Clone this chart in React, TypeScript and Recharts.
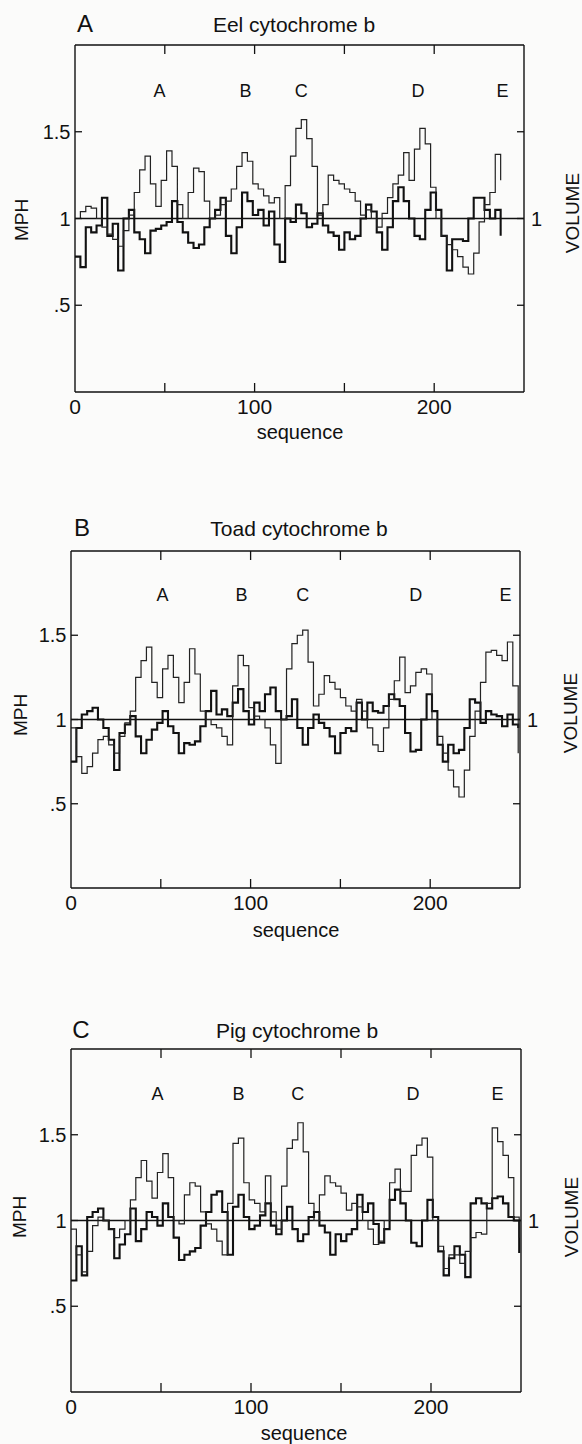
import React from 'react';
import { LineChart, Line, XAxis, YAxis, ReferenceLine, ReferenceDot } from 'recharts';

const FONT = '"Liberation Sans", Arial, Helvetica, sans-serif';

// sequence positions (residue number)
const SEQ = [
  0, 3, 6, 9, 12, 15, 18, 21, 24, 27,
  30, 33, 36, 39, 42, 45, 48, 51, 54, 57,
  60, 63, 66, 69, 72, 75, 78, 81, 84, 87,
  90, 93, 96, 99, 102, 105, 108, 111, 114, 117,
  120, 123, 126, 129, 132, 135, 138, 141, 144, 147,
  150, 153, 156, 159, 162, 165, 168, 171, 174, 177,
  180, 183, 186, 189, 192, 195, 198, 201, 204, 207,
  210, 213, 216, 219, 222, 225, 228, 231, 234, 237,
  240, 243, 246, 249,
];

const X_TICKS = [0, 50, 100, 150, 200];
const X_TICK_LABELS = [0, 100, 200];
const Y_TICKS = [0.5, 1, 1.5];
const REGION_NAMES = ['A', 'B', 'C', 'D', 'E'];

// Panel A: Eel cytochrome b
const eelMph = [
  1.00, 1.04, 1.07, 1.06, 1.00, 0.95, 0.91, 0.88, 0.84, 0.93,
  1.02, 1.15, 1.28, 1.36, 1.20, 1.07, 1.22, 1.39, 1.30, 1.08,
  1.00, 1.15, 1.29, 1.27, 1.10, 1.00, 1.02, 1.08, 1.10, 1.17,
  1.30, 1.38, 1.33, 1.20, 1.17, 1.13, 1.09, 1.12, 1.00, 1.19,
  1.36, 1.52, 1.57, 1.46, 1.30, 1.02, 1.08, 1.25, 1.22, 1.20,
  1.17, 1.15, 1.10, 1.02, 1.05, 1.00, 0.95, 1.03, 1.12, 1.20,
  1.25, 1.38, 1.22, 1.40, 1.52, 1.43, 1.18, 1.00, 0.90, 0.85,
  0.82, 0.78, 0.72, 0.68, 0.80, 0.98, 1.08, 1.15, 1.37, 1.22,
  null, null, null, null,
];
const eelVol = [
  0.78, 0.72, 0.95, 0.92, 0.96, 1.12, 0.90, 0.97, 0.70, 1.00,
  1.05, 0.92, 0.88, 0.80, 0.93, 0.94, 0.96, 0.98, 1.10, 0.98,
  0.92, 0.86, 0.83, 0.85, 0.95, 1.00, 1.05, 1.12, 0.90, 0.80,
  0.95, 1.15, 1.10, 1.02, 1.05, 0.96, 1.04, 0.85, 0.75, 1.00,
  0.98, 1.08, 1.03, 0.95, 0.97, 1.03, 0.96, 0.92, 0.90, 0.82,
  0.92, 0.88, 0.90, 1.00, 1.08, 1.04, 0.92, 0.82, 0.95, 1.10,
  1.18, 1.10, 1.00, 0.90, 0.88, 1.05, 1.15, 1.05, 0.90, 0.70,
  0.88, 0.88, 0.87, 1.00, 1.12, 1.12, 1.05, 1.00, 1.05, 0.90,
  null, null, null, null,
];
const eelRegionSeq = [47, 95, 126, 191, 238];

// Panel B: Toad cytochrome b
const toadMph = [
  0.95, 0.78, 0.68, 0.72, 0.80, 0.88, 0.90, 0.85, 0.80, 0.90,
  0.98, 1.05, 1.25, 1.35, 1.43, 1.22, 1.13, 1.30, 1.38, 1.25,
  1.10, 1.22, 1.42, 1.27, 1.05, 1.00, 0.97, 0.95, 0.90, 0.85,
  1.20, 1.38, 1.32, 1.07, 1.02, 1.00, 0.95, 0.85, 0.74, 1.00,
  1.30, 1.45, 1.50, 1.53, 1.34, 1.08, 1.15, 1.26, 1.22, 1.18,
  1.13, 1.08, 1.05, 1.12, 1.05, 0.95, 0.85, 0.81, 0.95, 1.12,
  1.23, 1.37, 1.16, 1.20, 1.28, 1.30, 1.27, 1.00, 0.90, 0.80,
  0.70, 0.60, 0.54, 0.70, 0.90, 1.05, 1.22, 1.40, 1.41, 1.38,
  1.35, 1.46, 1.20, 0.80,
];
const toadVol = [
  0.75, 0.95, 1.03, 1.05, 1.07, 1.00, 0.95, 0.88, 0.70, 0.92,
  0.97, 1.02, 0.90, 0.80, 0.88, 0.94, 0.98, 1.05, 0.96, 0.92,
  0.80, 0.86, 0.85, 0.87, 0.96, 1.05, 1.17, 1.03, 1.06, 1.02,
  1.10, 1.18, 1.05, 0.97, 1.10, 1.05, 1.15, 1.19, 1.05, 1.00,
  1.02, 1.12, 0.95, 0.85, 0.95, 1.03, 0.98, 0.95, 0.90, 0.80,
  0.92, 0.95, 0.93, 1.10, 1.00, 1.10, 1.05, 1.04, 1.08, 1.15,
  1.12, 1.08, 0.92, 0.81, 0.82, 1.00, 1.15, 1.05, 0.85, 0.75,
  0.85, 0.80, 0.82, 0.95, 1.12, 1.10, 0.98, 1.05, 1.03, 1.02,
  0.96, 1.03, 0.97, 0.95,
];
const toadRegionSeq = [51, 95, 129, 192, 242];

// Panel C: Pig cytochrome b
const pigMph = [
  0.95, 0.80, 0.70, 0.82, 0.97, 1.02, 1.00, 0.95, 0.90, 0.95,
  1.00, 1.12, 1.25, 1.35, 1.23, 1.13, 1.28, 1.39, 1.25, 1.00,
  0.98, 1.15, 1.22, 1.20, 1.05, 0.98, 0.95, 0.88, 0.80, 1.10,
  1.45, 1.48, 1.22, 1.12, 1.10, 1.05, 1.26, 1.05, 0.95, 1.20,
  1.42, 1.47, 1.57, 1.40, 1.10, 1.00, 1.15, 1.26, 1.22, 1.20,
  1.16, 1.06, 1.10, 1.08, 1.00, 0.95, 0.86, 0.88, 1.00, 1.22,
  1.30, 1.17, 1.17, 1.38, 1.44, 1.48, 1.37, 1.00, 0.85, 0.72,
  0.80, 0.80, 0.75, 0.82, 0.90, 0.93, 0.92, 1.10, 1.54, 1.46,
  1.38, 1.25, 1.02, 0.90,
];
const pigVol = [
  0.65, 0.85, 0.68, 1.02, 1.05, 1.07, 1.00, 0.95, 0.78, 0.86,
  0.92, 1.07, 0.88, 0.95, 1.05, 1.02, 0.97, 1.10, 1.02, 0.90,
  0.77, 0.80, 0.82, 0.84, 0.97, 1.05, 1.15, 1.17, 1.05, 0.80,
  1.08, 1.15, 1.02, 0.95, 0.97, 1.03, 1.10, 0.97, 0.92, 1.00,
  1.08, 0.95, 0.88, 0.92, 1.02, 1.05, 0.97, 0.93, 0.80, 0.92,
  0.88, 0.92, 0.95, 1.15, 1.05, 1.10, 0.98, 0.87, 0.95, 1.12,
  1.18, 1.10, 1.00, 0.87, 0.85, 1.00, 1.12, 1.02, 0.82, 0.68,
  0.78, 0.85, 0.80, 0.67, 1.10, 1.13, 1.10, 1.07, 1.13, 1.14,
  1.10, 1.02, 1.00, 0.81,
];
const pigRegionSeq = [48, 93, 126, 190, 237];

const REGION_LABEL_Y = 1.74;

type Box = { left: number; right: number; top: number; bottom: number };

type PanelSpec = {
  letter: string;
  title: string;
  mph: (number | null)[];
  vol: (number | null)[];
  regionSeq: number[];
  box: Box;
  letterPos: [number, number];
  titlePos: [number, number];
  mphPos: [number, number];
  volPos: [number, number];
  seqPos: [number, number];
};

const PANELS: PanelSpec[] = [
  {
    letter: 'A', title: 'Eel cytochrome b', mph: eelMph, vol: eelVol, regionSeq: eelRegionSeq,
    box: { left: 75, right: 524, top: 45, bottom: 392 },
    letterPos: [85, 24], titlePos: [294, 24], mphPos: [21, 220], volPos: [572, 213], seqPos: [300, 432],
  },
  {
    letter: 'B', title: 'Toad cytochrome b', mph: toadMph, vol: toadVol, regionSeq: toadRegionSeq,
    box: { left: 71, right: 520, top: 551, bottom: 888 },
    letterPos: [82, 528], titlePos: [299, 528], mphPos: [20, 715], volPos: [570, 713], seqPos: [296, 930],
  },
  {
    letter: 'C', title: 'Pig cytochrome b', mph: pigMph, vol: pigVol, regionSeq: pigRegionSeq,
    box: { left: 71, right: 521, top: 1049, bottom: 1392 },
    letterPos: [81, 1030], titlePos: [297, 1030], mphPos: [19, 1217], volPos: [571, 1217], seqPos: [304, 1433],
  },
];

const W = 582;
const TOP_PAD = 45;
const BOTTOM_PAD = 53;

function Txt({ x, y, size, children, rotate }: { x: number; y: number; size: number; children: React.ReactNode; rotate?: boolean }) {
  return (
    <div
      style={{
        position: 'absolute',
        left: x,
        top: y,
        transform: `translate(-50%, -50%)${rotate ? ' rotate(-90deg)' : ''}`,
        fontSize: size,
        lineHeight: 1,
        whiteSpace: 'nowrap',
        color: '#111',
        fontFamily: FONT,
      }}
    >
      {children}
    </div>
  );
}

function Panel({ spec }: { spec: PanelSpec }) {
  const { box } = spec;
  const plotH = box.bottom - box.top;
  const H = plotH + TOP_PAD + BOTTOM_PAD;
  const localTop = TOP_PAD;
  const localBottom = TOP_PAD + plotH;
  const data = SEQ.map((s, i) => ({ seq: s, mph: spec.mph[i], vol: spec.vol[i] }));

  const bottomTick = (p: any) => {
    const v = p.payload.value;
    return (
      <g>
        {v !== 0 && <line x1={p.x} x2={p.x} y1={localBottom} y2={localBottom - 9} stroke="#111" strokeWidth={1.3} />}
        {X_TICK_LABELS.includes(v) && (
          <text x={p.x} y={localBottom + 22} textAnchor="middle" fontSize={21} fontFamily={FONT} fill="#111">
            {v}
          </text>
        )}
      </g>
    );
  };
  const topTick = (p: any) => (
    <line x1={p.x} x2={p.x} y1={localTop} y2={localTop + 9} stroke="#111" strokeWidth={1.3} />
  );
  const leftTick = (p: any) => {
    const v = p.payload.value;
    const label = v === 1 ? '1' : v === 1.5 ? '1.5' : '.5';
    return (
      <g>
        <line x1={box.left} x2={box.left + 7} y1={p.y} y2={p.y} stroke="#111" strokeWidth={1.3} />
        <text x={box.left - 4.5} y={p.y} dy="0.36em" textAnchor="end" fontSize={20} fontFamily={FONT} fill="#111">
          {label}
        </text>
      </g>
    );
  };
  const rightTick = (p: any) => {
    const v = p.payload.value;
    return (
      <g>
        <line x1={box.right} x2={box.right - 7} y1={p.y} y2={p.y} stroke="#111" strokeWidth={1.3} />
        {v === 1 && (
          <text x={box.right + 7} y={p.y} dy="0.36em" textAnchor="start" fontSize={20} fontFamily={FONT} fill="#111">
            1
          </text>
        )}
      </g>
    );
  };

  const axisLine = { stroke: '#111', strokeWidth: 1.4 };

  return (
    <>
      <div style={{ position: 'absolute', left: 0, top: box.top - TOP_PAD }}>
        <LineChart width={W} height={H} data={data} margin={{ top: TOP_PAD - 30, right: 0, bottom: 0, left: 0 }}>
          <XAxis
            xAxisId="b"
            dataKey="seq"
            type="number"
            domain={[0, 250]}
            ticks={X_TICKS}
            orientation="bottom"
            height={BOTTOM_PAD}
            tickLine={false}
            tickSize={0}
            tick={bottomTick}
            axisLine={axisLine}
            allowDataOverflow
            interval={0}
          />
          <XAxis
            xAxisId="t"
            dataKey="seq"
            type="number"
            domain={[0, 250]}
            ticks={[50, 100, 150, 200]}
            orientation="top"
            height={30}
            tickLine={false}
            tickSize={0}
            tick={topTick}
            axisLine={axisLine}
            allowDataOverflow
            interval={0}
          />
          <YAxis
            yAxisId="l"
            orientation="left"
            type="number"
            domain={[0, 2]}
            ticks={Y_TICKS}
            width={box.left}
            tickLine={false}
            tickSize={0}
            tick={leftTick}
            axisLine={axisLine}
            allowDataOverflow
            interval={0}
          />
          <YAxis
            yAxisId="r"
            orientation="right"
            type="number"
            domain={[0, 2]}
            ticks={Y_TICKS}
            width={W - box.right}
            tickLine={false}
            tickSize={0}
            tick={rightTick}
            axisLine={axisLine}
            allowDataOverflow
            interval={0}
          />
          <ReferenceLine xAxisId="b" yAxisId="l" y={1} stroke="#111" strokeWidth={1.6} />
          <Line
            xAxisId="t"
            yAxisId="r"
            dataKey="vol"
            type="stepAfter"
            stroke="#111"
            strokeWidth={2.1}
            dot={false}
            isAnimationActive={false}
          />
          <Line
            xAxisId="b"
            yAxisId="l"
            dataKey="mph"
            type="stepAfter"
            stroke="#222"
            strokeWidth={1.2}
            dot={false}
            isAnimationActive={false}
          />
          {REGION_NAMES.map((n, i) => (
            <ReferenceDot
              key={n}
              xAxisId="b"
              yAxisId="l"
              x={spec.regionSeq[i]}
              y={REGION_LABEL_Y}
              r={0}
              fill="none"
              stroke="none"
              label={{ value: n, position: 'center', fontSize: 18, fontFamily: FONT, fill: '#111' }}
            />
          ))}
        </LineChart>
      </div>
      <Txt x={spec.letterPos[0]} y={spec.letterPos[1]} size={24}>{spec.letter}</Txt>
      <Txt x={spec.titlePos[0]} y={spec.titlePos[1]} size={21}>{spec.title}</Txt>
      <Txt x={spec.mphPos[0]} y={spec.mphPos[1]} size={19} rotate>MPH</Txt>
      <Txt x={spec.volPos[0]} y={spec.volPos[1]} size={19} rotate>VOLUME</Txt>
      <Txt x={spec.seqPos[0]} y={spec.seqPos[1]} size={20}>sequence</Txt>
    </>
  );
}

export default function App() {
  return (
    <div style={{ position: 'relative', width: 582, height: 1444, background: '#fbfbfa', overflow: 'hidden', fontFamily: FONT }}>
      <style>{'body{margin:0;}'}</style>
      {PANELS.map((p) => (
        <Panel key={p.letter} spec={p} />
      ))}
    </div>
  );
}
